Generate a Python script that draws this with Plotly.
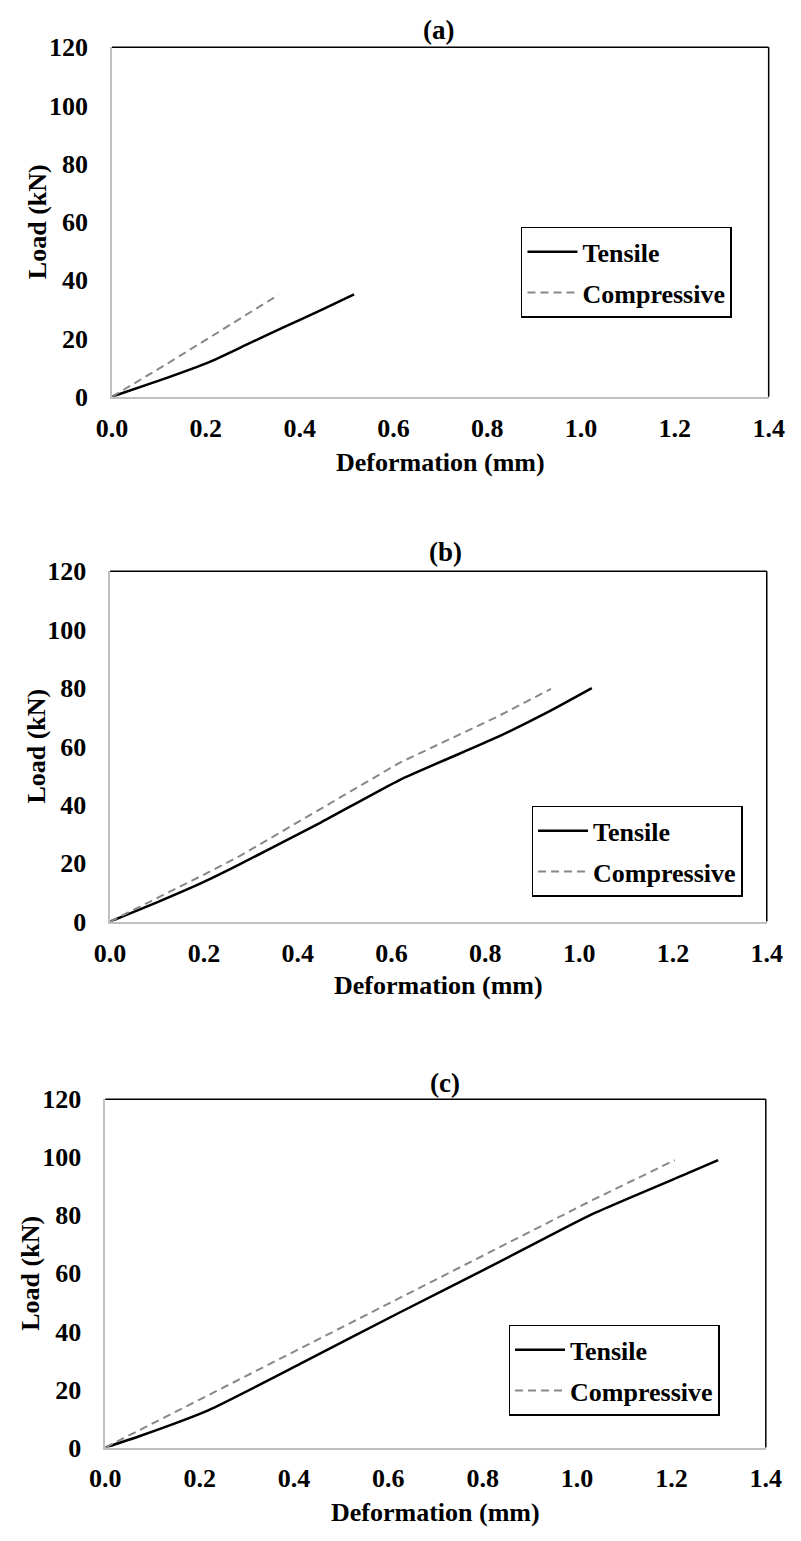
import plotly.graph_objects as go

W, H = 801, 1541

# ---- data (Deformation mm, Load kN) ----
a_tens_x = [0.0, 0.10, 0.206, 0.29, 0.363, 0.45, 0.516]
a_tens_y = [0.0, 5.5, 11.8, 18.1, 23.6, 30.1, 35.1]
a_comp_x = [0.0, 0.10, 0.20, 0.30, 0.355]
a_comp_y = [0.0, 9.6, 19.5, 29.6, 35.0]

b_tens_x = [0.0, 0.10, 0.20, 0.276, 0.45, 0.617, 0.823, 0.93, 1.027]
b_tens_y = [0.0, 6.6, 13.6, 19.6, 34.0, 48.5, 63.0, 71.5, 80.0]
b_comp_x = [0.0, 0.10, 0.20, 0.276, 0.45, 0.617, 0.823, 0.94]
b_comp_y = [0.0, 8.0, 16.1, 22.4, 38.6, 54.4, 70.0, 79.7]

c_tens_x = [0.0, 0.069, 0.218, 0.42, 0.625, 0.829, 1.032, 1.236, 1.299]
c_tens_y = [0.0, 3.7, 12.8, 29.4, 46.6, 63.4, 80.4, 94.6, 99.0]
c_comp_x = [0.0, 0.218, 0.625, 1.032, 1.207]
c_comp_y = [0.0, 18.0, 51.8, 85.2, 99.0]

x_ticks = [0.0, 0.2, 0.4, 0.6, 0.8, 1.0, 1.2, 1.4]
x_tick_text = ["0.0", "0.2", "0.4", "0.6", "0.8", "1.0", "1.2", "1.4"]
y_ticks = [0, 20, 40, 60, 80, 100, 120]
panel_labels = ["(a)", "(b)", "(c)"]
series_names = ["Tensile", "Compressive"]

FONT = "Liberation Serif, Times New Roman, Times, DejaVu Serif, serif"
FS = 26

# ---- layout geometry (pixels) ----
panels = [
    dict(l=100, r=784, t=34, b=390, title_x=440, title_y=16, xt_y=457, yt_x=22,
         leg_x=526, leg_y=217),
    dict(l=98, r=782, t=568, b=925, title_x=447, title_y=548, xt_y=990, yt_x=21,
         leg_x=537, leg_y=807),
    dict(l=93, r=781, t=1106, b=1461, title_x=447, title_y=1090, xt_y=1527, yt_x=15,
         leg_x=513, leg_y=1336),
]
data = [
    (a_tens_x, a_tens_y, a_comp_x, a_comp_y),
    (b_tens_x, b_tens_y, b_comp_x, b_comp_y),
    (c_tens_x, c_tens_y, c_comp_x, c_comp_y),
]

def px(x):
    return x / W

def py(y):
    return 1 - y / H

fig = go.Figure()
layout = dict(
    width=W, height=H, margin=dict(l=0, r=0, t=0, b=0),
    paper_bgcolor="white", plot_bgcolor="white", showlegend=True,
    annotations=[], shapes=[],
)

for i, (p, d) in enumerate(zip(panels, data)):
    n = "" if i == 0 else str(i + 1)
    xa, ya = "x" + n, "y" + n
    leg = "legend" + n
    tx, ty, cx, cy = d
    fig.add_trace(go.Scatter(x=tx, y=ty, mode="lines", name=series_names[0],
                             line=dict(color="black", width=2.5, shape="spline", smoothing=0.5),
                             xaxis=xa, yaxis=ya, legend=leg, legendgroup="t" + n))
    fig.add_trace(go.Scatter(x=cx, y=cy, mode="lines", name=series_names[1],
                             line=dict(color="#888888", width=2, dash="8px,5px"),
                             xaxis=xa, yaxis=ya, legend=leg, legendgroup="c" + n))
    layout["xaxis" + n] = dict(
        domain=[px(p["l"]), px(p["r"])], anchor=ya, range=[0, 1.4],
        tickvals=x_ticks, ticktext=x_tick_text, showgrid=False, zeroline=False,
        showline=True, linecolor="#c0c0c0", linewidth=1.5, ticks="",
        ticklabelstandoff=7,
        tickfont=dict(family=FONT, size=FS, color="black", weight="bold"),
    )
    layout["yaxis" + n] = dict(
        domain=[py(p["b"]), py(p["t"])], anchor=xa, range=[0, 120],
        tickvals=y_ticks, showgrid=False, zeroline=False,
        showline=True, linecolor="#c0c0c0", linewidth=1.5, ticks="",
        ticklabelstandoff=17,
        tickfont=dict(family=FONT, size=FS, color="black", weight="bold"),
    )
    layout[leg] = dict(
        x=px(p["leg_x"]), y=py(p["leg_y"]), xanchor="left", yanchor="top",
        xref="paper", yref="paper",
        bordercolor="black", borderwidth=1.5, bgcolor="white",
        font=dict(family=FONT, size=FS, color="black", weight="bold"),
        tracegroupgap=4, itemwidth=50,
    )
    # black top / right border of plot area
    layout["shapes"].append(dict(type="line", xref=xa + " domain", yref=ya + " domain",
                                 x0=0, x1=1, y0=1, y1=1, line=dict(color="black", width=1.5)))
    layout["shapes"].append(dict(type="line", xref=xa + " domain", yref=ya + " domain",
                                 x0=1, x1=1, y0=0, y1=1, line=dict(color="black", width=1.5)))
    # panel title
    layout["annotations"].append(dict(
        text=panel_labels[i], x=px(p["title_x"]), y=py(p["title_y"]),
        xref="paper", yref="paper", xanchor="center", yanchor="middle", showarrow=False,
        font=dict(family=FONT, size=FS + 1, color="black", weight="bold")))
    # x axis title
    layout["annotations"].append(dict(
        text="Deformation (mm)", x=px((p["l"] + p["r"]) / 2), y=py(p["xt_y"]),
        xref="paper", yref="paper", xanchor="center", yanchor="middle", showarrow=False,
        font=dict(family=FONT, size=FS, color="black", weight="bold")))
    # y axis title
    layout["annotations"].append(dict(
        text="Load (kN)", x=px(p["yt_x"]), y=py((p["t"] + p["b"]) / 2),
        xref="paper", yref="paper", xanchor="center", yanchor="middle", showarrow=False,
        textangle=-90,
        font=dict(family=FONT, size=FS, color="black", weight="bold")))

fig.update_layout(**layout)
fig.write_html("out.html")
